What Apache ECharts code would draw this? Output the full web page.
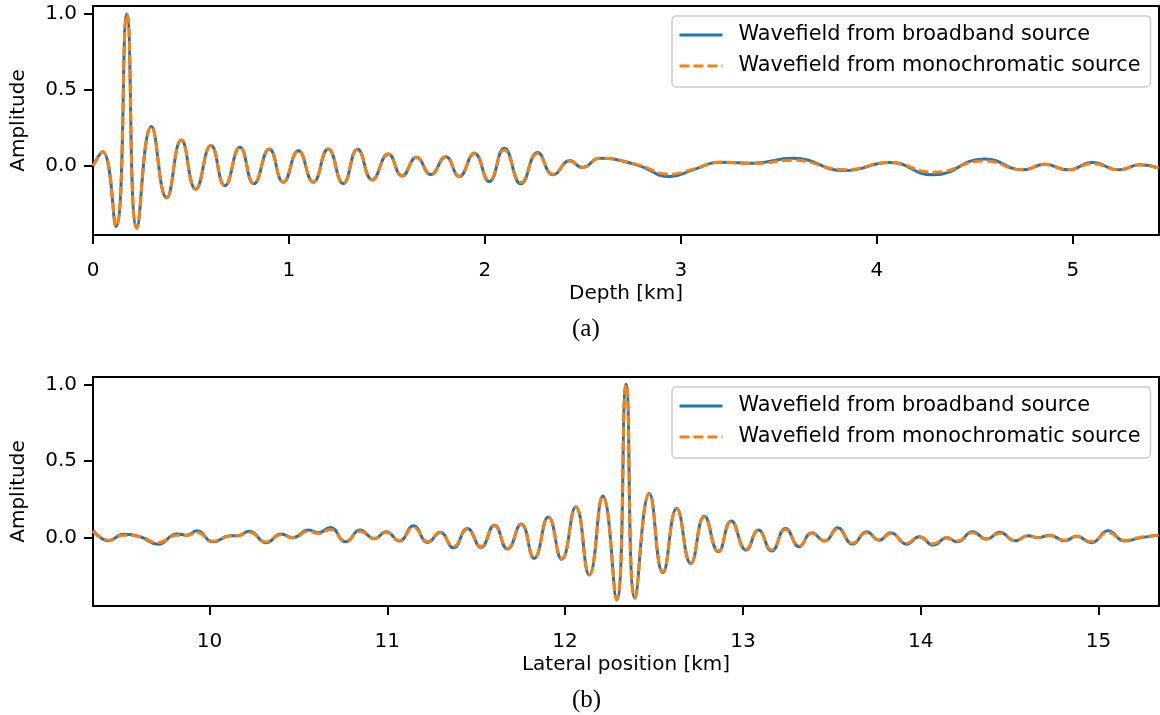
<!DOCTYPE html>
<html><head><meta charset="utf-8">
<script src="https://cdn.jsdelivr.net/npm/echarts@6/dist/echarts.min.js"></script>
<style>html,body{margin:0;padding:0;background:#fff}#c{width:1160px;height:715px}</style>
</head><body><div id="c"></div>
<script>
// ---- Panel (a): amplitude vs depth ----
const aDepth = [0.000,0.049,0.117,0.173,0.224,0.298,0.376,0.451,0.524,0.602,0.673,0.750,0.821,0.900,0.971,1.048,1.124,1.200,1.277,1.350,1.425,1.507,1.578,1.651,1.724,1.800,1.869,1.946,2.022,2.099,2.184,2.269,2.349,2.434,2.497,2.587,2.774,2.944,3.063,3.199,3.369,3.573,3.837,4.066,4.287,4.551,4.746,4.857,4.976,5.100,5.236,5.342,5.440];
const aBroad = [0.00,0.094,-0.40,1.00,-0.41,0.26,-0.21,0.17,-0.153,0.134,-0.13,0.123,-0.118,0.112,-0.107,0.100,-0.107,0.112,-0.116,0.110,-0.092,0.079,-0.066,0.057,-0.057,0.061,-0.070,0.083,-0.103,0.116,-0.118,0.088,-0.059,0.035,-0.011,0.050,0.007,-0.070,-0.026,0.024,0.018,0.050,-0.031,0.022,-0.059,0.046,-0.026,0.011,-0.026,0.022,-0.026,0.007,-0.015];
const aMono  = [0.00,0.094,-0.40,1.00,-0.41,0.26,-0.21,0.17,-0.153,0.134,-0.13,0.123,-0.118,0.112,-0.107,0.100,-0.107,0.112,-0.116,0.110,-0.092,0.079,-0.066,0.057,-0.057,0.061,-0.070,0.083,-0.095,0.105,-0.110,0.082,-0.055,0.033,-0.011,0.050,0.010,-0.055,-0.022,0.024,0.015,0.037,-0.025,0.022,-0.042,0.033,-0.026,0.011,-0.026,0.015,-0.026,0.007,-0.015];
const aTicksX = [0,1,2,3,4,5];
// ---- Panel (b): amplitude vs lateral position ----
const bPos = [9.345,9.433,9.517,9.611,9.710,9.817,9.873,9.930,10.020,10.117,10.154,10.225,10.319,10.402,10.469,10.557,10.613,10.679,10.767,10.847,10.927,10.994,11.068,11.147,11.228,11.297,11.372,11.450,11.527,11.602,11.676,11.753,11.826,11.906,11.981,12.060,12.136,12.212,12.290,12.343,12.393,12.474,12.550,12.628,12.707,12.784,12.862,12.934,13.018,13.087,13.162,13.240,13.317,13.387,13.461,13.533,13.617,13.696,13.767,13.831,13.921,13.992,14.071,14.147,14.205,14.292,14.370,14.445,14.530,14.605,14.660,14.726,14.810,14.876,14.960,15.053,15.147,15.232,15.340];
const bBroad = [0.048,-0.022,0.020,0.004,-0.044,0.022,0.015,0.043,-0.029,0.011,0.011,0.041,-0.035,0.022,-0.002,0.048,0.030,0.065,-0.029,0.048,-0.008,0.037,-0.024,0.076,-0.033,0.033,-0.068,0.059,-0.065,0.080,-0.076,0.087,-0.137,0.134,-0.143,0.200,-0.246,0.270,-0.409,1.000,-0.398,0.287,-0.230,0.189,-0.170,0.139,-0.094,0.108,-0.083,0.048,-0.089,0.059,-0.061,0.030,-0.024,0.063,-0.044,0.037,-0.018,0.030,-0.044,0.004,-0.050,-0.002,-0.029,0.037,-0.011,0.033,-0.022,0.011,-0.002,0.015,-0.022,0.008,-0.035,0.043,-0.024,-0.003,0.015];
const bMono  = [0.040,-0.018,0.015,0.004,-0.035,0.015,0.012,0.032,-0.025,0.010,0.010,0.032,-0.030,0.018,-0.002,0.040,0.025,0.052,-0.025,0.040,-0.008,0.032,-0.020,0.065,-0.028,0.030,-0.060,0.055,-0.060,0.076,-0.072,0.084,-0.132,0.130,-0.140,0.197,-0.243,0.268,-0.405,1.000,-0.395,0.284,-0.226,0.185,-0.165,0.134,-0.090,0.102,-0.078,0.045,-0.082,0.052,-0.055,0.027,-0.022,0.055,-0.038,0.030,-0.016,0.026,-0.038,0.004,-0.042,-0.002,-0.024,0.030,-0.010,0.028,-0.020,0.010,-0.002,0.012,-0.018,0.007,-0.028,0.033,-0.020,0.000,0.015];
const bTicksX = [10,11,12,13,14,15];
const yTicks = [0, 0.5, 1.0];
const legendNames = ['Wavefield from broadband source', 'Wavefield from monochromatic source'];

const BLUE = '#1f77b4', ORANGE = '#ff7f0e';
const FONT = 'DejaVu Sans';
const pairs = (xs, ys) => xs.map((x, i) => [x, ys[i]]);

function xAxisOf(idx, min, max, ticks, name) {
  return {
    type: 'value', gridIndex: idx, min: min, max: max,
    name: name, nameLocation: 'middle', nameGap: 49,
    nameTextStyle: {fontFamily: FONT, fontSize: 20, color: '#000'},
    splitLine: {show: false},
    axisLine: {show: true, onZero: false, lineStyle: {color: '#000', width: 2}},
    axisTick: {show: true, length: 9, customValues: ticks, lineStyle: {color: '#000', width: 2}},
    axisLabel: {customValues: ticks, margin: 26, fontFamily: FONT, fontSize: 20, color: '#000',
      formatter: v => String(v)}
  };
}
function yAxisOf(idx, min, max) {
  return {
    type: 'value', gridIndex: idx, min: min, max: max,
    name: 'Amplitude', nameLocation: 'middle', nameGap: 64, nameRotate: 90,
    nameTextStyle: {fontFamily: FONT, fontSize: 20, color: '#000'},
    splitLine: {show: false},
    axisLine: {show: true, onZero: false, lineStyle: {color: '#000', width: 2}},
    axisTick: {show: true, length: 9, customValues: yTicks, lineStyle: {color: '#000', width: 2}},
    axisLabel: {customValues: yTicks, margin: 16, fontFamily: FONT, fontSize: 20, color: '#000',
      formatter: v => v.toFixed(1)}
  };
}
function legendOf(top) {
  return {
    left: 672, top: top, orient: 'vertical',
    data: legendNames,
    itemWidth: 43, itemHeight: 14, itemGap: 7,
    padding: [7, 10, 9, 6],
    borderColor: '#cccccc', borderWidth: 1.5, borderRadius: 4, backgroundColor: 'rgba(255,255,255,0.85)',
    itemStyle: {opacity: 0},
    lineStyle: {width: 3},
    textStyle: {fontFamily: FONT, fontSize: 20.8, color: '#000', lineHeight: 24, padding: [0, 0, 0, 11]},
    selectedMode: false
  };
}
function lineSeries(name, idx, data, color, dashed, z) {
  return {
    type: 'line', name: name, xAxisIndex: idx, yAxisIndex: idx,
    data: data, smooth: 0.5, showSymbol: false, symbol: 'none',
    lineStyle: {color: color, width: 3, type: dashed ? [10, 4] : 'solid'},
    itemStyle: {color: color}, z: z, animation: false
  };
}

const chart = echarts.init(document.getElementById('c'), null, {renderer: 'canvas'});
chart.setOption({
  animation: false,
  backgroundColor: '#fff',
  grid: [
    {left: 93, right: 1, top: 6, height: 229, show: true, borderColor: '#000', borderWidth: 2, backgroundColor: 'transparent'},
    {left: 93, right: 1, top: 377, height: 229, show: true, borderColor: '#000', borderWidth: 2, backgroundColor: 'transparent'}
  ],
  xAxis: [
    xAxisOf(0, 0, 5.44, aTicksX, 'Depth [km]'),
    xAxisOf(1, 9.345, 15.34, bTicksX, 'Lateral position [km]')
  ],
  yAxis: [yAxisOf(0, -0.455, 1.053), yAxisOf(1, -0.448, 1.048)],
  legend: [legendOf(16), legendOf(387)],
  series: [
    lineSeries(legendNames[0], 0, pairs(aDepth, aBroad), BLUE, false, 2),
    lineSeries(legendNames[1], 0, pairs(aDepth, aMono), ORANGE, true, 3),
    lineSeries(legendNames[0], 1, pairs(bPos, bBroad), BLUE, false, 2),
    lineSeries(legendNames[1], 1, pairs(bPos, bMono), ORANGE, true, 3)
  ],
  graphic: [
    {type: 'text', left: 572, top: 317, style: {text: '(a)', font: '25px "Liberation Serif"', fill: '#000'}},
    {type: 'text', left: 572, top: 688, style: {text: '(b)', font: '25px "Liberation Serif"', fill: '#000'}}
  ]
});
</script></body></html>
